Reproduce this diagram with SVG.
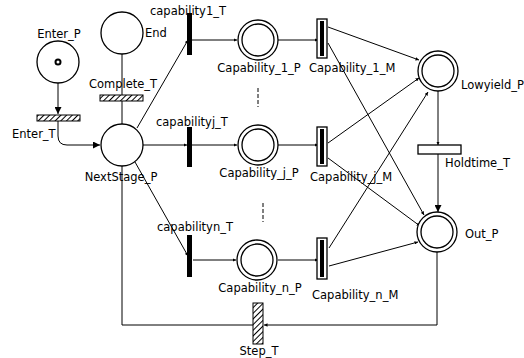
<svg xmlns="http://www.w3.org/2000/svg" width="524" height="358" viewBox="0 0 524 358">
<style>
text{font-family:"DejaVu Sans","Liberation Sans",sans-serif;font-size:11.5px;fill:#000}
.c{text-anchor:middle}
.pl{fill:#fff;stroke:#000;stroke-width:1.3}
.ln{fill:none;stroke:#000;stroke-width:1}
.ar{marker-end:url(#ah)}
.as{marker-end:url(#ahs)}
.bar{fill:#000}
.hat{fill:url(#hatch);stroke:#000;stroke-width:1}
</style>
<defs>
<pattern id="hatch" patternUnits="userSpaceOnUse" width="4" height="4" patternTransform="rotate(45)">
<rect width="4" height="4" fill="#fff"/>
<line x1="0" y1="0" x2="0" y2="4" stroke="#000" stroke-width="2"/>
</pattern>
<marker id="ah" viewBox="0 0 10 10" refX="10" refY="5" markerWidth="7" markerHeight="7" orient="auto" markerUnits="userSpaceOnUse">
<path d="M0,0 L10,5 L0,10 z" fill="#000"/>
</marker>
<marker id="ahs" viewBox="0 0 10 10" refX="10" refY="5" markerWidth="3.5" markerHeight="3.5" orient="auto" markerUnits="userSpaceOnUse">
<path d="M0,0 L10,5 L0,10 z" fill="#000"/>
</marker>
</defs>
<rect width="524" height="358" fill="#fff"/>
<g id="connectors">
<path class="ln ar" d="M58,83 L58,114"/>
<path class="ln ar" d="M58,121 L58,136 Q58,145 67,145 L100,145"/>
<path class="ln" d="M122,54 L122,95"/>
<path class="ln" d="M122,101 L122,124"/>
<path class="ln as" d="M137,128 L188,40"/>
<path class="ln as" d="M192,40 L237,40"/>
<path class="ln as" d="M278,40 L318,40"/>
<path class="ln as" d="M143,145 L187,145"/>
<path class="ln as" d="M192,145 L237,145"/>
<path class="ln as" d="M278,145 L318,145"/>
<path class="ln as" d="M135,162 L188,256"/>
<path class="ln as" d="M193,260 L236,260"/>
<path class="ln as" d="M278,260 L318,260"/>
<path class="ln as" d="M328,27 L419,60"/>
<path class="ln as" d="M328,43 L424,215"/>
<path class="ln as" d="M328,143 L419,78"/>
<path class="ln as" d="M328,158 L420,226"/>
<path class="ln as" d="M329,248 L428,92"/>
<path class="ln as" d="M329,266 L418,242"/>
<path class="ln as" d="M438,91 L438,145"/>
<path class="ln ar" d="M438,154 L438,212"/>
<path class="ln as" d="M437,252 L437,325 L264,325"/>
<path class="ln" d="M253,325 L122,325 L122,166"/>
</g>
<g id="Enter_P"><circle class="pl" cx="58" cy="62" r="21"/><circle cx="58" cy="62" r="2.5" fill="#fff" stroke="#000" stroke-width="2"/><text class="c" x="59" y="38">Enter_P</text></g>
<g id="Enter_T"><rect class="hat" x="37" y="115" width="43" height="6"/><text x="12" y="138">Enter_T</text></g>
<g id="End"><circle class="pl" cx="122" cy="33" r="21"/><text x="145" y="37">End</text></g>
<g id="Complete_T"><rect class="hat" x="100" y="95" width="43" height="6"/><text class="c" x="123" y="88">Complete_T</text></g>
<g id="NextStage_P"><circle class="pl" cx="122" cy="145" r="21"/><text class="c" x="121" y="181">NextStage_P</text></g>
<g id="capability1_T"><rect class="bar" x="187" y="13" width="5" height="42"/><text x="150" y="15">capability1_T</text></g>
<g id="capabilityj_T"><rect class="bar" x="187" y="127" width="5" height="40"/><text x="156" y="126">capabilityj_T</text></g>
<g id="capabilityn_T"><rect class="bar" x="187" y="235" width="5" height="42"/><text x="157" y="231">capabilityn_T</text></g>
<g id="Capability_1_P"><circle class="pl" cx="258" cy="40" r="20"/><circle class="pl" cx="258" cy="40" r="16"/><text class="c" x="259" y="72">Capability_1_P</text></g>
<g id="Capability_j_P"><circle class="pl" cx="258" cy="145" r="20"/><circle class="pl" cx="258" cy="145" r="16"/><text class="c" x="259" y="177">Capability_j_P</text></g>
<g id="Capability_n_P"><circle class="pl" cx="257" cy="260" r="20"/><circle class="pl" cx="257" cy="260" r="16"/><text class="c" x="260" y="292">Capability_n_P</text></g>
<g id="dots"><line class="ln" x1="258" y1="88" x2="258" y2="107" stroke-dasharray="4,2" stroke-width="1.5"/><line class="ln" x1="263" y1="203" x2="263" y2="222" stroke-dasharray="4,2" stroke-width="1.5"/></g>
<g id="Capability_1_M"><rect class="pl" x="317" y="19" width="10" height="39"/><rect class="bar" x="320" y="21" width="4" height="35"/><text x="309" y="72">Capability_1_M</text></g>
<g id="Capability_j_M"><rect class="pl" x="317" y="127" width="10" height="39"/><rect class="bar" x="320" y="129" width="4" height="35"/><text x="310" y="181">Capability_j_M</text></g>
<g id="Capability_n_M"><rect class="pl" x="317" y="238" width="10" height="41"/><rect class="bar" x="320" y="240" width="4" height="37"/><text x="312" y="299">Capability_n_M</text></g>
<g id="Lowyield_P"><circle class="pl" cx="438" cy="71" r="20"/><circle class="pl" cx="438" cy="71" r="16"/><text x="461" y="89">Lowyield_P</text></g>
<g id="Holdtime_T"><rect class="pl" x="418" y="145" width="43" height="9"/><text x="445" y="167">Holdtime_T</text></g>
<g id="Out_P"><circle class="pl" cx="437" cy="232" r="20"/><circle class="pl" cx="437" cy="232" r="16"/><text x="465" y="238">Out_P</text></g>
<g id="Step_T"><rect class="hat" x="253" y="303" width="10" height="41"/><text class="c" x="259" y="355">Step_T</text></g>
</svg>
